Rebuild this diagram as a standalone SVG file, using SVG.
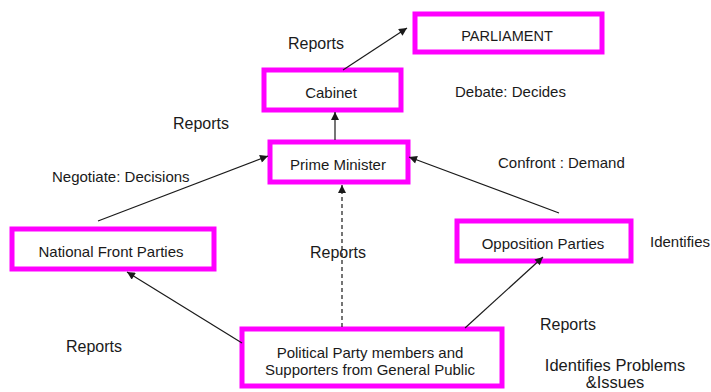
<svg xmlns="http://www.w3.org/2000/svg" width="711" height="392" viewBox="0 0 711 392">
<style>
.box{fill:#fff;stroke:#ff00ff;stroke-width:5}
.t{font-family:"Liberation Sans",Arial,sans-serif;fill:#1a1a1a}
.s15{font-size:15px}
.s16{font-size:16px}
.s17{font-size:16.5px}
.c{text-anchor:middle}
.ln{stroke:#1a1a1a;stroke-width:1.2;fill:none}
</style>
<defs>
<marker id="ah" viewBox="0 0 10 10" refX="10" refY="5" markerWidth="9" markerHeight="8" markerUnits="userSpaceOnUse" orient="auto">
<path d="M0,0 L10,5 L0,10 z" fill="#1a1a1a"/>
</marker>
</defs>
<rect width="711" height="392" fill="#fff"/>
<g id="parliament">
<rect class="box" x="415" y="14" width="187" height="38"/>
<text class="t c" style="font-size:14.5px" x="507" y="41">PARLIAMENT</text>
</g>
<g id="cabinet">
<rect class="box" x="264" y="70" width="137" height="40"/>
<text class="t s15 c" x="331" y="98">Cabinet</text>
</g>
<g id="prime-minister">
<rect class="box" x="270" y="142" width="138" height="40"/>
<text class="t s15 c" x="338" y="170">Prime Minister</text>
</g>
<g id="national-front">
<rect class="box" x="12" y="229" width="202" height="40"/>
<text class="t s15 c" x="111" y="257">National Front Parties</text>
</g>
<g id="opposition">
<rect class="box" x="457" y="221" width="174" height="40"/>
<text class="t s15 c" x="543" y="249">Opposition Parties</text>
</g>
<g id="public">
<rect class="box" x="242" y="329" width="260" height="57"/>
<text class="t s15 c" x="370" y="358">Political Party members and<tspan x="370" dy="17">Supporters from General Public</tspan></text>
</g>
<g id="connectors">
<line class="ln" x1="343" y1="70" x2="407" y2="28" marker-end="url(#ah)"/>
<line class="ln" x1="335" y1="140" x2="335" y2="112" marker-end="url(#ah)"/>
<line class="ln" x1="98" y1="221" x2="268" y2="156" marker-end="url(#ah)"/>
<line class="ln" x1="559" y1="213" x2="409" y2="157" marker-end="url(#ah)"/>
<line class="ln" x1="342" y1="327" x2="342" y2="185" stroke-dasharray="4,3" marker-end="url(#ah)"/>
<line class="ln" x1="242" y1="343" x2="127" y2="272" marker-end="url(#ah)"/>
<line class="ln" x1="465" y1="328" x2="543" y2="257" marker-end="url(#ah)"/>
</g>
<g id="labels">
<text class="t s16" x="288" y="49">Reports</text>
<text class="t s15" x="455" y="97">Debate: Decides</text>
<text class="t s16" x="173" y="129">Reports</text>
<text class="t s15" x="498" y="168">Confront : Demand</text>
<text class="t s15" x="52" y="182">Negotiate: Decisions</text>
<text class="t s16" x="310" y="258">Reports</text>
<text class="t s15" x="650" y="247">Identifies</text>
<text class="t s16" x="66" y="352">Reports</text>
<text class="t s16" x="540" y="330">Reports</text>
<text class="t s17 c" x="615" y="371">Identifies Problems<tspan x="615" dy="17">&amp;Issues</tspan></text>
</g>
</svg>
